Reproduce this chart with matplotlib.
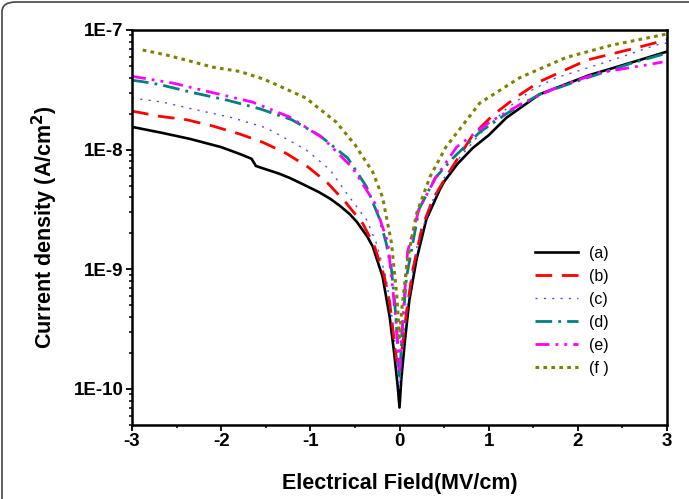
import numpy as np
import matplotlib
matplotlib.use('Agg')
import matplotlib.pyplot as plt
from matplotlib.patches import FancyBboxPatch
from matplotlib.ticker import FixedLocator, LogLocator, MultipleLocator, FuncFormatter

plt.rcParams['font.family'] = ['Liberation Sans', 'DejaVu Sans']
plt.rcParams['axes.unicode_minus'] = False

# values (field in MV/cm, current density in A/cm^2)
xa = [-3, -2.66, -2.35, -2.0, -1.79, -1.66, -1.61, -1.35, -1.23, -1.05, -0.9, -0.78, -0.67, -0.56, -0.48, -0.36,
      -0.3, -0.19, -0.11, -0.06, -0.02, 0,
      0.02, 0.06, 0.11, 0.19, 0.30, 0.45, 0.50, 0.65, 0.82, 1.0, 1.20, 1.57, 2.13, 2.69, 3.0]
ya = [1.55e-8, 1.38e-8, 1.23e-8, 1.05e-8, 9.2e-9, 8.4e-9, 7.3e-9, 6.3e-9, 5.8e-9, 5.0e-9, 4.4e-9, 3.9e-9, 3.4e-9, 2.9e-9, 2.5e-9, 1.87e-9,
      1.55e-9, 8.7e-10, 4e-10, 2e-10, 1.05e-10, 7e-11,
      1.2e-10, 2.5e-10, 5.5e-10, 1.2e-9, 2.6e-9, 4.6e-9, 5.4e-9, 7.6e-9, 1.03e-8, 1.32e-8, 1.85e-8, 2.9e-8, 4.2e-8, 5.6e-8, 6.6e-8]

xb = [-3, -2.69, -2.39, -2.1, -1.79, -1.53, -1.27, -1.03, -0.81, -0.6, -0.41, -0.28, -0.17, -0.11, -0.05, -0.03, 0,
      0.03, 0.08, 0.15, 0.25, 0.37, 0.52, 0.82, 1.05, 1.31, 1.57, 2.10, 2.69, 3.0]
yb = [2.1e-8, 1.9e-8, 1.78e-8, 1.58e-8, 1.35e-8, 1.15e-8, 9.3e-9, 7.2e-9, 5.3e-9, 3.6e-9, 2.4e-9, 1.55e-9, 8.7e-10, 5.3e-10, 2.2e-10, 1.7e-10, 1.8e-10,
      2.2e-10, 4.5e-10, 1.0e-9, 2.2e-9, 3.8e-9, 5.9e-9, 1.32e-8, 1.95e-8, 2.75e-8, 3.7e-8, 5.6e-8, 7.2e-8, 8.3e-8]

xc = [-3, -2.66, -2.28, -1.9, -1.53, -1.42, -1.05, -0.78, -0.56, -0.37, -0.26, -0.15, -0.08, -0.04, 0,
      0.04, 0.1, 0.2, 0.35, 0.5, 0.67, 0.9, 1.2, 1.5, 1.76, 2.32, 2.88, 3.0]
yc = [2.7e-8, 2.5e-8, 2.15e-8, 1.87e-8, 1.55e-8, 1.42e-8, 1.0e-8, 6.8e-9, 4.0e-9, 2.6e-9, 1.66e-9, 8.5e-10, 3.8e-10, 2e-10, 1.0e-10,
      2.5e-10, 6e-10, 1.6e-9, 3.5e-9, 5.8e-9, 8.5e-9, 1.35e-8, 2.2e-8, 3.2e-8, 4.0e-8, 5.4e-8, 7.5e-8, 7.8e-8]

xd = [-3, -2.88, -2.69, -2.32, -1.94, -1.57, -1.21, -0.9, -0.58, -0.37, -0.22, -0.15, -0.09, -0.04, 0,
      0.04, 0.08, 0.22, 0.4, 0.6, 0.9, 1.2, 1.57, 2.02, 2.61, 3.0]
yd = [3.8e-8, 3.7e-8, 3.5e-8, 3.0e-8, 2.6e-8, 2.2e-8, 1.78e-8, 1.32e-8, 8.5e-9, 4.9e-9, 2.6e-9, 1.66e-9, 1e-9, 4e-10, 1.2e-10,
      4e-10, 8.7e-10, 3.2e-9, 5.8e-9, 8.5e-9, 1.4e-8, 2.0e-8, 2.9e-8, 3.8e-8, 5.3e-8, 6.4e-8]

xe = [-3, -2.54, -2.1, -1.65, -1.23, -0.86, -0.53, -0.28, -0.13, -0.04, 0,
      0.04, 0.09, 0.22, 0.41, 0.64, 1.01, 1.38, 1.76, 2.24, 2.77, 2.95]
ye = [4.1e-8, 3.6e-8, 3.0e-8, 2.5e-8, 1.87e-8, 1.25e-8, 7.1e-9, 3.6e-9, 1.66e-9, 3.8e-10, 1.45e-10,
      4e-10, 1.4e-9, 3.2e-9, 5.9e-9, 1.05e-8, 1.7e-8, 2.45e-8, 3.3e-8, 4.4e-8, 5.1e-8, 5.4e-8]

xf = [-2.88, -2.62, -2.35, -2.1, -1.79, -1.53, -1.42, -1.05, -0.71, -0.5, -0.3, -0.19, -0.09, -0.03, 0,
      0.03, 0.09, 0.19, 0.34, 0.52, 0.9, 1.35, 1.87, 2.39, 2.95, 3.0]
yf = [6.8e-8, 6.2e-8, 5.5e-8, 4.9e-8, 4.5e-8, 3.9e-8, 3.6e-8, 2.7e-8, 1.7e-8, 1.1e-8, 6.5e-9, 4.0e-9, 1.66e-9, 6e-10, 2.7e-10,
      5e-10, 1.2e-9, 2.9e-9, 5.9e-9, 1.05e-8, 2.45e-8, 4.0e-8, 5.9e-8, 7.5e-8, 9.1e-8, 9.3e-8]

labels = ['(a)', '(b)', '(c)', '(d)', '(e)', '(f )']
yticks = [1e-10, 1e-9, 1e-8, 1e-7]

fig = plt.figure(figsize=(6.89, 4.99), dpi=100)
ax = fig.add_axes([132/689, 1-425/499, 535/689, 395/499])

ax.plot(xa, ya, color='black', lw=1.9, label=labels[0])
ax.plot(xb, yb, color='#ff0000', lw=2.0, dashes=(6, 3.5), label=labels[1])
ax.plot(xc, yc, color='#4a4aff', lw=1.0, dashes=(1.5, 4.5), label=labels[2])
ax.plot(xd, yd, color='#008080', lw=2.0, dashes=(6, 2.2, 1, 2.2), label=labels[3])
ax.plot(xe, ye, color='#ff00ff', lw=2.0, dashes=(5, 2.2, 1, 2.2, 1, 2.2), label=labels[4])
ax.plot(xf, yf, color='#808000', lw=2.2, dashes=(1.2, 1.4), label=labels[5])

ax.set_yscale('log')
ax.set_xlim(-3, 3)
ax.set_ylim(5e-11, 1e-7)
ax.yaxis.set_major_locator(FixedLocator(yticks))
ax.yaxis.set_minor_locator(LogLocator(base=10, subs=np.arange(2, 10)))
ax.yaxis.set_major_formatter(FuncFormatter(lambda v, p: '1E%d' % round(np.log10(v))))
ax.xaxis.set_major_locator(MultipleLocator(1))
ax.xaxis.set_minor_locator(MultipleLocator(0.5))

for s in ax.spines.values():
    s.set_linewidth(1.8)
ax.tick_params(which='major', direction='out', length=4, width=1.3, labelsize=13.5, pad=2)
ax.tick_params(which='minor', direction='out', length=2.2, width=1.1)
for t in ax.get_xticklabels() + ax.get_yticklabels():
    t.set_fontweight('bold')

ax.set_xlabel('Electrical Field(MV/cm)', fontsize=15.5, fontweight='bold', labelpad=16)
ax.set_ylabel('Current density (A/cm$^\\mathbf{2}$)', fontsize=15.5, fontweight='bold', labelpad=10)

ax.legend(loc='upper left', bbox_to_anchor=(535/689, 1-246/499), bbox_transform=fig.transFigure,
          frameon=False, fontsize=11.5, handlelength=2.7, handletextpad=0.7, labelspacing=0.5,
          borderaxespad=0, borderpad=0)

border = FancyBboxPatch((2/689, -0.1), 1.2, 1.1 - 2/499, boxstyle='round,pad=0,rounding_size=0.02',
                        transform=fig.transFigure, facecolor='none', edgecolor='#444444', lw=1.2,
                        clip_on=False)
fig.patches.append(border)

fig.savefig('out.png', dpi=100)
